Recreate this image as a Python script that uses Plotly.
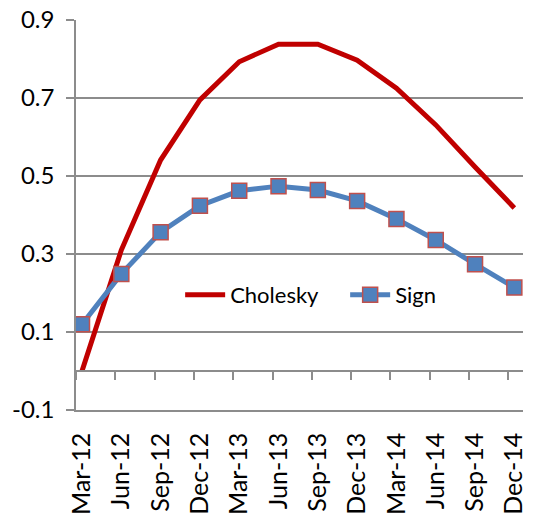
import plotly.graph_objects as go

categories = ["Mar-12", "Jun-12", "Sep-12", "Dec-12", "Mar-13", "Jun-13",
              "Sep-13", "Dec-13", "Mar-14", "Jun-14", "Sep-14", "Dec-14"]
cholesky = [0.0, 0.31, 0.541, 0.695, 0.793, 0.838, 0.838, 0.797, 0.725, 0.631, 0.523, 0.418]
sign = [0.12, 0.249, 0.356, 0.424, 0.462, 0.474, 0.464, 0.436, 0.39, 0.336, 0.274, 0.214]
y_ticks = [-0.1, 0.1, 0.3, 0.5, 0.7, 0.9]

FONT = "Lato"
GRID = "#8c8c8c"

fig = go.Figure()
fig.add_trace(go.Scatter(
    x=categories, y=cholesky, name="Cholesky", mode="lines",
    line=dict(color="#C00000", width=5),
))
fig.add_trace(go.Scatter(
    x=categories, y=sign, name="Sign", mode="lines+markers",
    line=dict(color="#4F81BD", width=5),
    marker=dict(symbol="square", size=15, color="#4F81BD",
                line=dict(color="#C0504D", width=1.5)),
))
# helper trace carrying the horizontal axis that crosses at y = 0
fig.add_trace(go.Scatter(
    x=categories, y=cholesky, xaxis="x2", mode="lines",
    line=dict(width=0), opacity=0, showlegend=False, hoverinfo="skip",
))

fig.update_layout(
    width=539, height=519,
    margin=dict(l=76, r=16, t=20, b=109, autoexpand=False),
    paper_bgcolor="white", plot_bgcolor="white",
    font=dict(family=FONT, color="black"),
    showlegend=True,
    legend=dict(orientation="h", x=0.233, y=0.295, xanchor="left", yanchor="middle",
                font=dict(size=22, family=FONT), bgcolor="rgba(0,0,0,0)",
                itemwidth=40, tracegroupgap=0, entrywidth=110, entrywidthmode="pixels"),
    xaxis=dict(
        type="category", categoryarray=categories, range=[-0.153, 11.22],
        tickangle=-90, tickfont=dict(size=25, family=FONT),
        showline=True, linecolor=GRID, linewidth=1.5,
        ticks="", showgrid=False, zeroline=False, ticklabelstandoff=11,
        automargin=False, ticklabeloverflow="allow",
    ),
    xaxis2=dict(
        type="category", categoryarray=categories, range=[0, 11.373],
        overlaying="x", anchor="free", position=0.1,
        showline=True, linecolor=GRID, linewidth=1.5,
        ticks="outside", ticklen=8, tickcolor=GRID, tickwidth=1.5,
        showticklabels=False, showgrid=False, zeroline=False, automargin=False,
    ),
    yaxis=dict(
        range=[-0.1, 0.9], tickvals=y_ticks, ticktext=[f"{v:g}" for v in y_ticks],
        tickfont=dict(size=24, family=FONT),
        showgrid=True, gridcolor=GRID, gridwidth=1.5,
        showline=True, linecolor=GRID, linewidth=1.5,
        ticks="outside", ticklen=8, tickcolor=GRID, tickwidth=1.5,
        zeroline=False, ticklabelstandoff=7, automargin=False,
        ticklabeloverflow="allow",
    ),
)

fig.write_html("out.html",
               config={"displayModeBar": False},
               post_script="document.body.style.margin='0';document.body.style.overflow='hidden';")
